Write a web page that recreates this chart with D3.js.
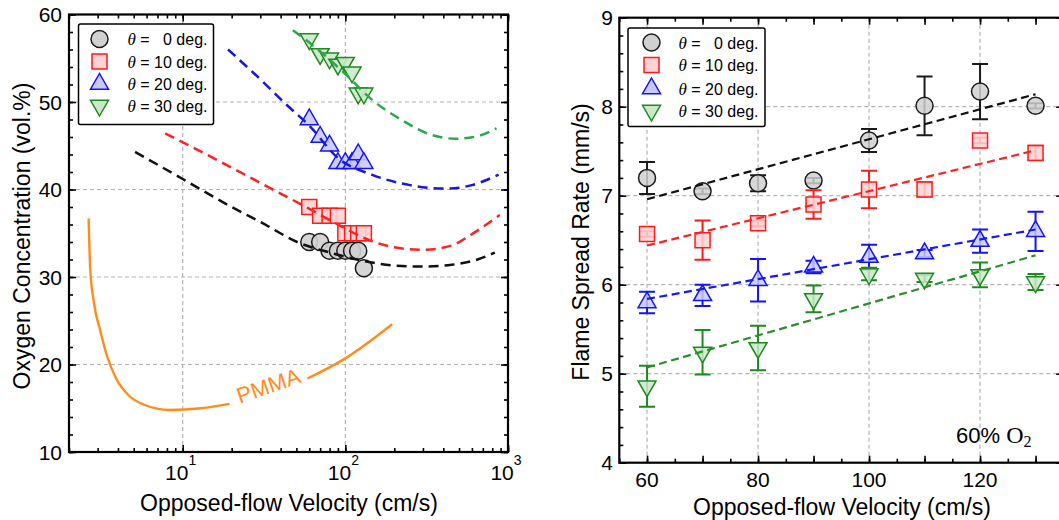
<!DOCTYPE html>
<html>
<head>
<meta charset="utf-8">
<script src="https://cdn.jsdelivr.net/npm/d3@7"></script>
<style>
  body { margin: 0; background: #fff; }
  svg { display: block; font-family: "Liberation Sans", Arial, sans-serif; }
</style>
</head>
<body>
<svg id="fig" width="1059" height="520"></svg>
<script>
(function () {
  'use strict';

  // ---- left panel: extinction O2 vs opposed-flow velocity ----
  var loiVel = [60, 70, 80, 90, 100, 110, 120, 130];
  var loi0  = [34, 34, 33, 33, 33, 33, 33, 31];
  var loi10 = [38, 37, 37, 37, 35, 35, 35, 35];
  var loi20 = [48, 46, 45, 43, 43, 43, 44, 43];
  var loi30 = [57.2, 55.5, 55, 54.3, 54.5, 53.4, 51, 51];

  // dashed trend curves ([velocity, O2])
  var curve0  = [[5.1, 44.3], [10, 41.2], [20, 38], [30, 36.3], [52, 33.9], [80, 32.8], [125, 31.9], [200, 31.3], [300, 31.2], [450, 31.4], [650, 32], [830, 32.8]];
  var curve10 = [[7.8, 46.4], [10, 45.4], [20, 42.5], [35, 40.1], [56, 38.1], [90, 36], [145, 34.1], [200, 33.4], [300, 33.1], [450, 33.6], [600, 34.9], [890, 37.1]];
  var curve20 = [[19, 56], [30, 52.6], [44, 49.6], [60, 47.3], [90, 43.6], [145, 41.7], [250, 40.5], [415, 40.1], [600, 40.5], [875, 41.7]];
  var curve30 = [[47.6, 58.2], [60, 56.8], [100, 53.2], [145, 50.3], [234, 47.7], [330, 46.3], [480, 45.8], [650, 46.1], [850, 47]];

  // PMMA flammability limit, split where the label sits
  var pmmaA = [[2.64, 36.7], [2.7, 31], [2.85, 27], [3.1, 24], [3.45, 20.8], [3.9, 18.4], [4.7, 16.4], [5.8, 15.4], [8.3, 14.8], [13, 15], [19.4, 15.5]];
  var pmmaB = [[58.5, 18.4], [100, 20.7], [194, 24.6]];

  var loiTicksX = [10, 100, 1000];
  var loiTicksY = [10, 20, 30, 40, 50, 60];

  // ---- right panel: flame spread rate at 60% O2 ----
  var fsrVel = [60, 70, 80, 90, 100, 110, 120, 130];
  var fsr0  = [7.20, 7.05, 7.14, 7.17, 7.62, 8.01, 8.17, 8.01];
  var fsr10 = [6.57, 6.50, 6.69, 6.90, 7.07, 7.07, 7.62, 7.48];
  var fsr20 = [5.80, 5.88, 6.05, 6.20, 6.31, 6.35, 6.49, 6.60];
  var fsr30 = [4.86, 5.24, 5.29, 5.84, 6.12, 6.07, 6.11, 6.03];
  var err0  = [0.18, 0.03, 0.09, 0.03, 0.13, 0.33, 0.31, 0.03];
  var err10 = [0.03, 0.22, 0.03, 0.16, 0.21, 0.08, 0.03, 0.08];
  var err20 = [0.12, 0.12, 0.24, 0.07, 0.14, 0.04, 0.13, 0.22];
  var err30 = [0.23, 0.25, 0.25, 0.15, 0.07, 0.04, 0.14, 0.09];

  // linear fits, value at the first and last velocity
  var fitVel = [60, 130];
  var fit0  = [6.96, 8.14];
  var fit10 = [6.44, 7.51];
  var fit20 = [5.84, 6.62];
  var fit30 = [5.07, 6.33];

  var fsrTicksX = [60, 80, 100, 120];
  var fsrTicksY = [4, 5, 6, 7, 8, 9];

  var angles = ["  0", "10", "20", "30"];

  var styles = [
    {kind: "circle", stroke: "#1a1a1a", fill: "#d0d0d0", lineL: "#111", lineR: "#111"},
    {kind: "square", stroke: "#ff1a1a", fill: "#ffd3d3", lineL: "#ff2020", lineR: "#ff2020"},
    {kind: "up",     stroke: "#1212ff", fill: "#c8caf6", lineL: "#1515e6", lineR: "#1515ff"},
    {kind: "down",   stroke: "#1d8a1d", fill: "#cce8cc", lineL: "#2aa84a", lineR: "#2a8f2a"}
  ];

  var svg = d3.select("#fig");

  function markerPath(kind) {
    if (kind === "circle") return d3.symbol(d3.symbolCircle, Math.PI * 8.5 * 8.5)();
    if (kind === "square") return "M-7.5,-7.5H7.5V7.5H-7.5Z";
    if (kind === "up") return "M0,-10.5L9,5.2H-9Z";
    return "M0,10.5L9,-5.2H-9Z";
  }

  function clean(s) {
    s.select(".domain").remove();
    s.selectAll("line").attr("stroke", "#000").attr("stroke-width", 1.6);
  }

  // inward ticks on all four sides + frame
  function frame(g, x, y, xMaj, xMin, yMaj, yMin) {
    var xr = x.range(), yr = y.range();
    [[d3.axisBottom, yr[0]], [d3.axisTop, yr[1]]].forEach(function (p) {
      g.append("g").attr("transform", "translate(0," + p[1] + ")")
        .call(p[0](x).tickValues(xMin).tickSize(-4).tickFormat("")).call(clean);
      g.append("g").attr("transform", "translate(0," + p[1] + ")")
        .call(p[0](x).tickValues(xMaj).tickSize(-7).tickFormat("")).call(clean);
    });
    [[d3.axisLeft, xr[0]], [d3.axisRight, xr[1]]].forEach(function (p) {
      g.append("g").attr("transform", "translate(" + p[1] + ",0)")
        .call(p[0](y).tickValues(yMin).tickSize(-4).tickFormat("")).call(clean);
      g.append("g").attr("transform", "translate(" + p[1] + ",0)")
        .call(p[0](y).tickValues(yMaj).tickSize(-7).tickFormat("")).call(clean);
    });
    g.append("rect")
      .attr("x", xr[0]).attr("y", yr[1])
      .attr("width", xr[1] - xr[0]).attr("height", yr[0] - yr[1])
      .attr("fill", "none").attr("stroke", "#000").attr("stroke-width", 2.2);
  }

  function grid(g, x, y, xs, ys) {
    var xr = x.range(), yr = y.range();
    g.selectAll(".gx").data(xs).enter().append("line")
      .attr("x1", x).attr("x2", x).attr("y1", yr[0]).attr("y2", yr[1]);
    g.selectAll(".gy").data(ys).enter().append("line")
      .attr("x1", xr[0]).attr("x2", xr[1]).attr("y1", y).attr("y2", y);
    g.selectAll("line").attr("stroke", "#b4b4b4").attr("stroke-width", 1.2)
      .attr("stroke-dasharray", "4,3");
  }

  function legend(g, bx, by, bw, bh, mx, tx, rows) {
    g.append("rect").attr("x", bx).attr("y", by).attr("width", bw).attr("height", bh)
      .attr("rx", 2).attr("fill", "#fff").attr("stroke", "#000").attr("stroke-width", 1.5);
    styles.forEach(function (s, i) {
      g.append("path").attr("d", markerPath(s.kind))
        .attr("transform", "translate(" + mx + "," + rows[i] + ")")
        .attr("fill", s.fill).attr("stroke", s.stroke).attr("stroke-width", 1.5);
      var t = g.append("text").attr("x", tx).attr("y", rows[i] + 6)
        .attr("font-size", 16).style("white-space", "pre");
      t.append("tspan").attr("font-family", "'Liberation Serif', 'Times New Roman', serif")
        .attr("font-style", "italic").attr("font-size", 17).text("θ");
      t.append("tspan").text(" = " + angles[i] + " deg.");
    });
  }

  // ================= LEFT PANEL =================
  var xL = d3.scaleLog().domain([2, 1000]).range([69, 508]);
  var yL = d3.scaleLinear().domain([10, 60]).range([452, 14.5]);
  var gL = svg.append("g");

  grid(gL.append("g"), xL, yL, [10, 100], [20, 30, 40, 50]);

  var lineL = d3.line().x(function (d) { return xL(d[0]); }).y(function (d) { return yL(d[1]); })
    .curve(d3.curveMonotoneX);

  [pmmaA, pmmaB].forEach(function (seg) {
    gL.append("path").attr("d", lineL(seg)).attr("fill", "none")
      .attr("stroke", "#ff8c1a").attr("stroke-width", 2.4);
  });
  gL.append("text").attr("transform", "translate(271,393) rotate(-19)")
    .attr("text-anchor", "middle").attr("font-size", 22).attr("fill", "#ff8c1a").text("PMMA");

  var loiSets = [loi0, loi10, loi20, loi30];
  var curves = [curve0, curve10, curve20, curve30];

  loiSets.forEach(function (vals, i) {
    var s = styles[i];
    gL.append("g").selectAll("path").data(vals).enter().append("path")
      .attr("d", markerPath(s.kind))
      .attr("transform", function (d, j) { return "translate(" + xL(loiVel[j]) + "," + yL(d) + ")"; })
      .attr("fill", s.fill).attr("fill-opacity", 0.9)
      .attr("stroke", s.stroke).attr("stroke-width", 1.5);
  });
  curves.forEach(function (c, i) {
    gL.append("path").attr("d", lineL(c)).attr("fill", "none")
      .attr("stroke", styles[i].lineL).attr("stroke-width", 2.5).attr("stroke-dasharray", "10,6");
  });

  frame(gL, xL, yL, loiTicksX, xL.ticks(), loiTicksY, d3.range(10, 61, 2));

  gL.selectAll(".ylab").data(loiTicksY).enter().append("text")
    .attr("x", 62).attr("y", function (d) { return yL(d) + 7.5; })
    .attr("text-anchor", "end").attr("font-size", 21).text(function (d) { return d; });

  loiTicksX.forEach(function (v) {
    var t = gL.append("text").attr("x", xL(v) - 2).attr("y", 480)
      .attr("text-anchor", "middle").attr("font-size", 21);
    t.append("tspan").text("10");
    t.append("tspan").attr("font-size", 14).attr("dy", -15).text(Math.round(Math.log10(v)));
  });

  gL.append("text").attr("x", 289).attr("y", 511).attr("text-anchor", "middle")
    .attr("font-size", 23).text("Opposed-flow Velocity (cm/s)");
  gL.append("text").attr("transform", "translate(30,236) rotate(-90)").attr("text-anchor", "middle")
    .attr("font-size", 23).text("Oxygen Concentration (vol.%)");

  legend(gL, 78.5, 24, 135, 100.5, 99.5, 127.5, [39, 61.5, 84, 105.5]);

  // ================= RIGHT PANEL =================
  var xR = d3.scaleLinear().domain([55, 135]).range([619.3, 1063.3]);
  var yR = d3.scaleLinear().domain([4, 9]).range([462.7, 17.7]);
  var gR = svg.append("g");

  grid(gR.append("g"), xR, yR, fsrTicksX, [5, 6, 7, 8]);

  var fsrSets = [fsr0, fsr10, fsr20, fsr30];
  var errSets = [err0, err10, err20, err30];
  var fitSets = [fit0, fit10, fit20, fit30];

  fsrSets.forEach(function (vals, i) {
    var s = styles[i], errs = errSets[i];
    var eb = gR.append("g").attr("stroke", s.stroke).attr("stroke-width", 2).attr("fill", "none");
    vals.forEach(function (v, j) {
      var cx = xR(fsrVel[j]), y1 = yR(v - errs[j]), y2 = yR(v + errs[j]);
      eb.append("path").attr("d",
        "M" + cx + "," + y1 + "V" + y2 +
        "M" + (cx - 8) + "," + y1 + "H" + (cx + 8) +
        "M" + (cx - 8) + "," + y2 + "H" + (cx + 8));
    });
    gR.append("g").selectAll("path").data(vals).enter().append("path")
      .attr("d", markerPath(s.kind))
      .attr("transform", function (d, j) { return "translate(" + xR(fsrVel[j]) + "," + yR(d) + ")"; })
      .attr("fill", s.fill).attr("fill-opacity", 0.85)
      .attr("stroke", s.stroke).attr("stroke-width", 1.5);
  });

  var lineR = d3.line().x(function (d, j) { return xR(fitVel[j]); }).y(function (d) { return yR(d); });
  fitSets.forEach(function (f, i) {
    gR.append("path").attr("d", lineR(f)).attr("fill", "none")
      .attr("stroke", styles[i].lineR).attr("stroke-width", 2.2).attr("stroke-dasharray", "8,4.5");
  });

  frame(gR, xR, yR, d3.range(60, 135, 10), d3.range(55, 136, 5), fsrTicksY, d3.range(4, 9.01, 0.2));

  gR.selectAll(".ylab").data(fsrTicksY).enter().append("text")
    .attr("x", 613).attr("y", function (d) { return yR(d) + 7.5; })
    .attr("text-anchor", "end").attr("font-size", 21).text(function (d) { return d; });
  gR.selectAll(".xlab").data(fsrTicksX).enter().append("text")
    .attr("x", xR).attr("y", 487)
    .attr("text-anchor", "middle").attr("font-size", 21).text(function (d) { return d; });

  gR.append("text").attr("x", 842).attr("y", 515).attr("text-anchor", "middle")
    .attr("font-size", 23).text("Opposed-flow Velocity (cm/s)");
  gR.append("text").attr("transform", "translate(589,242) rotate(-90)").attr("text-anchor", "middle")
    .attr("font-size", 23).text("Flame Spread Rate (mm/s)");

  var note = gR.append("text").attr("x", 956).attr("y", 443).attr("font-size", 22);
  note.append("tspan").text("60% ");
  note.append("tspan").attr("font-family", "'Liberation Serif', 'Times New Roman', serif")
    .attr("font-size", 24).text("O");
  note.append("tspan").attr("font-family", "'Liberation Serif', 'Times New Roman', serif")
    .attr("font-size", 16).attr("dy", 4).text("2");

  legend(gR, 628, 28, 137, 98.5, 651.5, 678.5, [42.5, 65, 88.5, 110.5]);
})();
</script>
</body>
</html>
